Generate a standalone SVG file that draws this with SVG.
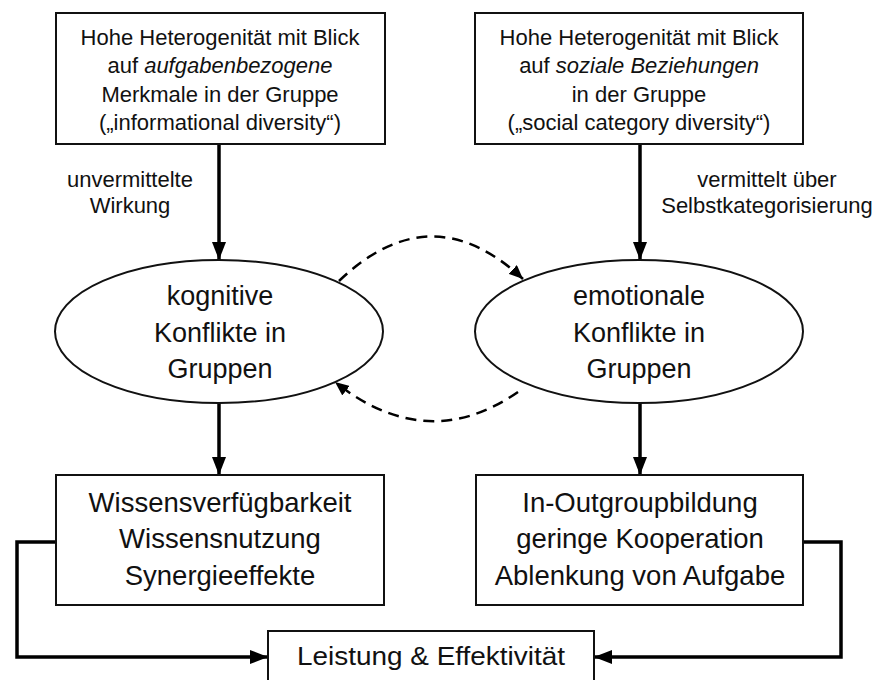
<svg xmlns="http://www.w3.org/2000/svg" width="874" height="680" viewBox="0 0 874 680">
<defs>
<style>
text{font-family:"Liberation Sans",Arial,sans-serif;fill:#111;text-anchor:middle}
.box{fill:#fff;stroke:#111;stroke-width:2}
.t22{font-size:22px}
.t27{font-size:27px}
.t28{font-size:27.5px}
.t24{font-size:26px}
.lbl{font-size:22px}
.solid{fill:none;stroke:#000;stroke-width:3.5}
.dash{fill:none;stroke:#000;stroke-width:2.5;stroke-dasharray:11 7}
</style>
<marker id="ah" markerUnits="userSpaceOnUse" markerWidth="20" markerHeight="14" refX="18" refY="7" orient="auto">
<path d="M0,0 L18,7 L0,14 Z" fill="#000"/>
</marker>
<marker id="ahs" markerUnits="userSpaceOnUse" markerWidth="16" markerHeight="12" refX="14" refY="6" orient="auto">
<path d="M0,0 L14,6 L0,12 Z" fill="#000"/>
</marker>
</defs>
<rect width="874" height="680" fill="#fff"/>

<g id="connectors">
<path class="solid" d="M219,144 V260" marker-end="url(#ah)"/>
<path class="solid" d="M640,144 V260" marker-end="url(#ah)"/>
<path class="solid" d="M219,403 V475" marker-end="url(#ah)"/>
<path class="solid" d="M640,403 V475" marker-end="url(#ah)"/>
<path class="dash" d="M339,281 Q431,193 523,279" marker-end="url(#ahs)"/>
<path class="dash" d="M518,392 Q427,455 335,382" marker-end="url(#ahs)"/>
<path class="solid" d="M56,542 H17 V657 H268" marker-end="url(#ah)"/>
<path class="solid" d="M803,542 H841 V657 H594" marker-end="url(#ah)"/>
<text class="lbl" x="130" y="187">unvermittelte</text>
<text class="lbl" x="130" y="213">Wirkung</text>
<text class="lbl" x="767" y="187">vermittelt über</text>
<text class="lbl" x="767" y="213">Selbstkategorisierung</text>
</g>

<g id="top-left">
<rect class="box" x="56" y="13" width="329" height="131"/>
<text class="t22" x="220" y="45">Hohe Heterogenität mit Blick</text>
<text class="t22" x="220" y="73">auf <tspan font-style="italic">aufgabenbezogene</tspan></text>
<text class="t22" x="220" y="102">Merkmale in der Gruppe</text>
<text class="t22" x="220" y="130">(„informational diversity“)</text>
</g>

<g id="top-right">
<rect class="box" x="475" y="13" width="328" height="131"/>
<text class="t22" x="639" y="45">Hohe Heterogenität mit Blick</text>
<text class="t22" x="639" y="73">auf <tspan font-style="italic">soziale Beziehungen</tspan></text>
<text class="t22" x="639" y="102">in der Gruppe</text>
<text class="t22" x="639" y="130">(„social category diversity“)</text>
</g>

<g id="cognitive">
<ellipse cx="219" cy="331.5" rx="164" ry="71.5" fill="#fff" stroke="#111" stroke-width="2"/>
<text class="t27" x="220" y="305">kognitive</text>
<text class="t27" x="220" y="342">Konflikte in</text>
<text class="t27" x="220" y="378">Gruppen</text>
</g>

<g id="emotional">
<ellipse cx="639" cy="331.5" rx="164" ry="71.5" fill="#fff" stroke="#111" stroke-width="2"/>
<text class="t27" x="639" y="305">emotionale</text>
<text class="t27" x="639" y="342">Konflikte in</text>
<text class="t27" x="639" y="378">Gruppen</text>
</g>

<g id="knowledge">
<rect class="box" x="56" y="475" width="328" height="130"/>
<text class="t28" x="220" y="512">Wissensverfügbarkeit</text>
<text class="t28" x="220" y="548">Wissensnutzung</text>
<text class="t28" x="220" y="585">Synergieeffekte</text>
</g>

<g id="ingroup">
<rect class="box" x="476" y="475" width="327" height="130"/>
<text class="t28" x="640" y="512">In-Outgroupbildung</text>
<text class="t28" x="640" y="548">geringe Kooperation</text>
<text class="t28" x="640" y="585">Ablenkung von Aufgabe</text>
</g>

<g id="performance">
<rect class="box" x="268" y="631" width="326" height="60"/>
<text class="t24" x="431" y="665" textLength="268" lengthAdjust="spacingAndGlyphs">Leistung &amp; Effektivität</text>
</g>
</svg>
